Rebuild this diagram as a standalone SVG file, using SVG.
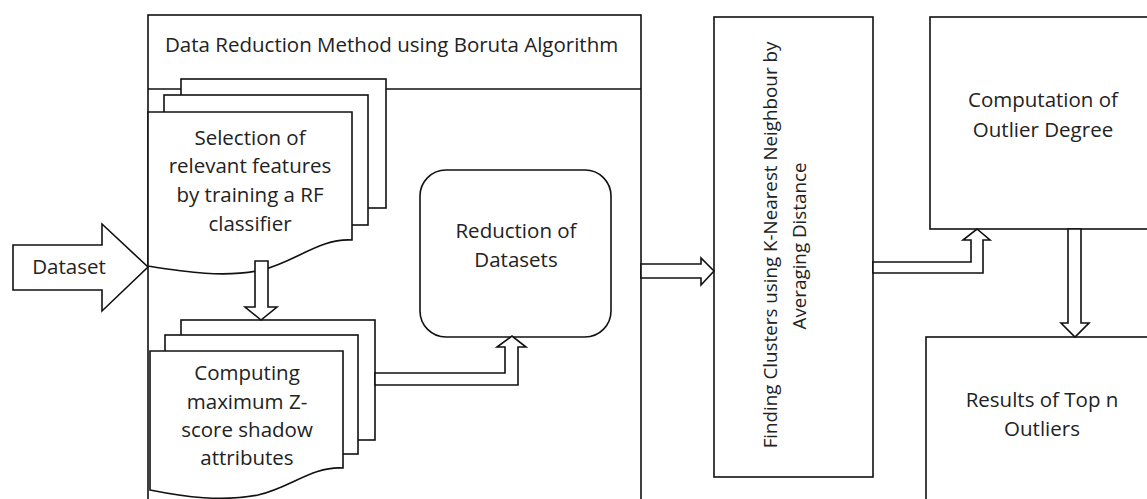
<svg xmlns="http://www.w3.org/2000/svg" width="1147" height="499" viewBox="0 0 1147 499">
<style>
.s{fill:#fff;stroke:#111;stroke-width:1.6;stroke-linejoin:miter}
.t{font-family:"Open Sans","Noto Sans",sans-serif;font-size:20.5px;fill:#222;text-anchor:middle}
.h{text-anchor:start}
.r{font-size:18.8px}
</style>
<rect width="1147" height="499" fill="#fff"/>
<g id="container">
<rect class="s" x="148" y="15" width="493" height="500"/>
<line class="s" x1="148" y1="89" x2="641" y2="89"/>
<text class="t h" x="165" y="52">Data Reduction Method using Boruta Algorithm</text>
</g>
<g id="dataset">
<path class="s" d="M13,245 H102 V224 L148,267 L102,311 V290 H13 Z"/>
<text class="t" x="69" y="274">Dataset</text>
</g>
<g id="selection">
<rect class="s" x="181" y="79" width="205" height="129"/>
<rect class="s" x="164" y="95" width="204" height="130"/>
<path class="s" d="M148,112 H352 V240 C320,238 295,262 262,270 C225,278 185,272 148,266 Z"/>
<text class="t" x="250" y="145">Selection of</text>
<text class="t" x="250" y="173">relevant features</text>
<text class="t" x="250" y="202">by training a RF</text>
<text class="t" x="250" y="231">classifier</text>
</g>
<g id="computing">
<rect class="s" x="181" y="320" width="194" height="120"/>
<rect class="s" x="165" y="335" width="193" height="119"/>
<path class="s" d="M150,351 H343 V468 C312,466 290,488 258,495 C222,502 185,497 150,490 Z"/>
<text class="t" x="247" y="380">Computing</text>
<text class="t" x="247" y="409">maximum Z-</text>
<text class="t" x="247" y="437">score shadow</text>
<text class="t" x="247" y="465">attributes</text>
</g>
<g id="reduction">
<rect class="s" x="420" y="170" width="191" height="167" rx="26" ry="26"/>
<text class="t" x="516" y="238">Reduction of</text>
<text class="t" x="516" y="267">Datasets</text>
</g>
<g id="finding">
<rect class="s" x="714" y="17" width="159" height="460"/>
<text class="t r" transform="translate(777,245) rotate(-90)">Finding Clusters using K-Nearest Neighbour by</text>
<text class="t r" transform="translate(806,246) rotate(-90)">Averaging Distance</text>
</g>
<g id="outlier-degree">
<rect class="s" x="930" y="17" width="230" height="212"/>
<text class="t" x="1043" y="107">Computation of</text>
<text class="t" x="1043" y="137">Outlier Degree</text>
</g>
<g id="results">
<rect class="s" x="926" y="337" width="240" height="180"/>
<text class="t" x="1042" y="407">Results of Top n</text>
<text class="t" x="1042" y="436">Outliers</text>
</g>
<g id="connectors">
<path class="s" d="M255,261 H268 V307 H277 L261,320 L245,307 H255 Z"/>
<path class="s" d="M375,373 H505 V347 H497 L512,336 L526,347 H518 V385 H375 Z"/>
<path class="s" d="M641,264 H701 V258 L714,271 L701,285 V278 H641 Z"/>
<path class="s" d="M873,262 H971 V240 H963 L977,229 L990,240 H983 V273 H873 Z"/>
<path class="s" d="M1068,229 H1081 V323 H1089 L1075,337 L1061,323 H1068 Z"/>
</g>
</svg>
